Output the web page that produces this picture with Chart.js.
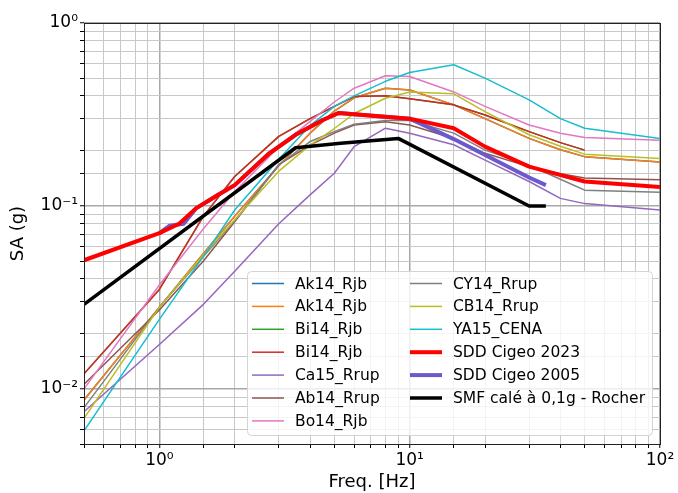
<!DOCTYPE html>
<html>
<head>
<meta charset="utf-8">
<script src="https://cdn.jsdelivr.net/npm/chart.js@4.4.1/dist/chart.umd.min.js"></script>
<style>
html, body { margin: 0; padding: 0; background: #fff; }
</style>
</head>
<body>
<canvas id="myChart" width="678" height="493"></canvas>
<script>
// fréquences communes des GMPE (Hz)
const freq = [0.5, 1, 1.5, 2, 3, 4, 5, 6, 8, 10, 15, 20, 30, 40, 50, 100];

// SA (g) par modèle
const ak14 = [0.0087, 0.028, 0.055, 0.088, 0.166, 0.25, 0.33, 0.39, 0.44, 0.43, 0.357, 0.30, 0.234, 0.203, 0.186, 0.174];
const bi14 = [0.0121, 0.035, 0.088, 0.145, 0.24, 0.30, 0.35, 0.396, 0.40, 0.385, 0.357, 0.314, 0.255, 0.222, 0.202, null];
const ca15 = [0.0075, 0.0175, 0.029, 0.044, 0.08, 0.115, 0.151, 0.211, 0.266, 0.25, 0.216, 0.178, 0.136, 0.11, 0.103, 0.095];
const ab14 = [0.0106, 0.027, 0.05, 0.082, 0.168, 0.215, 0.25, 0.277, 0.289, 0.277, 0.234, 0.194, 0.164, 0.15, 0.142, 0.139];
const bo14 = [0.010, 0.037, 0.075, 0.12, 0.21, 0.29, 0.37, 0.44, 0.515, 0.51, 0.42, 0.35, 0.277, 0.25, 0.237, 0.229];
const cy14 = [0.0079, 0.028, 0.053, 0.083, 0.168, 0.225, 0.255, 0.28, 0.293, 0.293, 0.25, 0.202, 0.167, 0.14, 0.122, 0.119];
const cb14 = [0.0069, 0.028, 0.054, 0.084, 0.155, 0.215, 0.265, 0.32, 0.388, 0.42, 0.41, 0.328, 0.245, 0.212, 0.192, 0.182];
const ya15 = [0.0059, 0.024, 0.053, 0.095, 0.18, 0.275, 0.35, 0.40, 0.48, 0.536, 0.591, 0.50, 0.38, 0.30, 0.266, 0.234];

// spectres SDD et SMF
const sdd2023F = [0.5, 1, 1.2, 1.4, 1.7, 2, 2.75, 3.5, 4.5, 5.2, 10, 15, 20, 30, 50, 100];
const sdd2023 = [0.0505, 0.071, 0.08, 0.097, 0.114, 0.13, 0.194, 0.245, 0.295, 0.322, 0.30, 0.266, 0.211, 0.164, 0.136, 0.127];
const sdd2005F = [1, 1.1, 1.25, 1.4, 1.7, 2, 2.75, 3.5, 4.5, 5.2, 10, 15, 20, 30, 35];
const sdd2005 = [0.071, 0.078, 0.08, 0.097, 0.114, 0.13, 0.194, 0.245, 0.295, 0.322, 0.30, 0.232, 0.19, 0.143, 0.13];
const smfF = [0.5, 3.5, 5.3, 9, 30, 35];
const smf = [0.029, 0.208, 0.22, 0.234, 0.1, 0.1];

function pts(xs, ys) {
    return xs.map((x, i) => ({ x: x, y: ys[i] }));
}

function serie(label, couleur, xs, ys, epaisseur, ordre) {
    return {
        label: label,
        data: pts(xs, ys),
        borderColor: couleur,
        borderWidth: epaisseur,
        pointRadius: 0,
        tension: 0,
        fill: false,
        borderJoinStyle: 'round',
        order: ordre
    };
}

const datasets = [
    serie('Ak14_Rjb', '#1f77b4', freq, ak14, 1.5, 100),
    serie('Ak14_Rjb', '#ff7f0e', freq, ak14, 1.5, 99),
    serie('Bi14_Rjb', '#2ca02c', freq, bi14, 1.5, 98),
    serie('Bi14_Rjb', '#d62728', freq, bi14, 1.5, 97),
    serie('Ca15_Rrup', '#9467bd', freq, ca15, 1.5, 96),
    serie('Ab14_Rrup', '#8c564b', freq, ab14, 1.5, 95),
    serie('Bo14_Rjb', '#e377c2', freq, bo14, 1.5, 94),
    serie('CY14_Rrup', '#7f7f7f', freq, cy14, 1.5, 93),
    serie('CB14_Rrup', '#bcbd22', freq, cb14, 1.5, 92),
    serie('YA15_CENA', '#17becf', freq, ya15, 1.5, 91),
    serie('SDD Cigeo 2023', '#ff0000', sdd2023F, sdd2023, 4, 80),
    serie('SDD Cigeo 2005', '#6a5acd', sdd2005F, sdd2005, 4, 85),
    serie('SMF calé à 0,1g - Rocher', '#000000', smfF, smf, 3.5, 70)
];

const sup = { '0': '⁰', '1': '¹', '2': '²', '-': '⁻' };
function labelPuissance(v) {
    const e = Math.log10(v);
    if (Math.abs(e - Math.round(e)) > 1e-6) return '';
    return '10' + String(Math.round(e)).split('').map(c => sup[c]).join('');
}
function estMajeur(v) {
    const e = Math.log10(v);
    return Math.abs(e - Math.round(e)) < 1e-6;
}

// légende dessinée dans la zone du graphique (2 colonnes)
const legende = {
    id: 'legende',
    afterDatasetsDraw(chart) {
        const ctx = chart.ctx;
        ctx.save();
        ctx.beginPath();
        ctx.roundRect(247.5, 271.5, 405, 164, 4);
        ctx.fillStyle = 'rgba(255,255,255,0.8)';
        ctx.fill();
        ctx.strokeStyle = '#d4d4d4';
        ctx.lineWidth = 1;
        ctx.stroke();
        ctx.font = '15.5px "DejaVu Sans"';
        ctx.textBaseline = 'middle';
        chart.data.datasets.forEach((ds, i) => {
            const col = i < 7 ? 0 : 1;
            const row = i < 7 ? i : i - 7;
            const hx = col ? 410 : 252;
            const ty = 283.5 + row * 22.9;
            ctx.strokeStyle = ds.borderColor;
            ctx.lineWidth = ds.borderWidth;
            ctx.beginPath();
            ctx.moveTo(hx, ty);
            ctx.lineTo(hx + 32, ty);
            ctx.stroke();
            ctx.fillStyle = '#000';
            ctx.fillText(ds.label, hx + 43, ty + 1);
        });
        ctx.restore();
    }
};

// cadre autour des axes
const cadre = {
    id: 'cadre',
    afterDraw(chart) {
        const a = chart.chartArea;
        const ctx = chart.ctx;
        ctx.save();
        ctx.strokeStyle = '#222';
        ctx.lineWidth = 1;
        ctx.strokeRect(Math.round(a.left) + 0.5, Math.round(a.top) + 0.5, Math.round(a.right - a.left), Math.round(a.bottom - a.top));
        ctx.restore();
    }
};

const grille = {
    color: c => estMajeur(c.tick.value) ? '#a8a8a8' : '#c8c8c8',
    lineWidth: c => estMajeur(c.tick.value) ? 1.5 : 1,
    tickColor: '#000',
    tickLength: 4,
    tickWidth: 1
};

new Chart(document.getElementById('myChart'), {
    type: 'line',
    data: { datasets: datasets },
    options: {
        responsive: false,
        animation: false,
        devicePixelRatio: 1,
        layout: { padding: { top: 23, right: 18, left: 0, bottom: 0 } },
        plugins: { legend: { display: false }, tooltip: { enabled: false } },
        scales: {
            x: {
                type: 'logarithmic',
                min: 0.5,
                max: 100,
                border: { display: false },
                grid: grille,
                ticks: {
                    autoSkip: false,
                    maxRotation: 0,
                    padding: 2,
                    color: '#000',
                    font: { family: 'DejaVu Sans', size: 17 },
                    callback: v => labelPuissance(v)
                },
                title: { display: true, text: 'Freq. [Hz]', color: '#000', font: { family: 'DejaVu Sans', size: 18 }, padding: { top: 0, bottom: 0 } },
                afterFit: s => { s.height = 49; }
            },
            y: {
                type: 'logarithmic',
                min: 0.005,
                max: 1,
                border: { display: false },
                grid: grille,
                ticks: {
                    autoSkip: false,
                    padding: 2,
                    color: '#000',
                    font: { family: 'DejaVu Sans', size: 17 },
                    callback: v => labelPuissance(v)
                },
                title: { display: true, text: 'SA (g)', color: '#000', font: { family: 'DejaVu Sans', size: 18 }, padding: { top: 8, bottom: 0 } },
                afterFit: s => { s.width = 84; }
            }
        }
    },
    plugins: [legende, cadre]
});
</script>
</body>
</html>
